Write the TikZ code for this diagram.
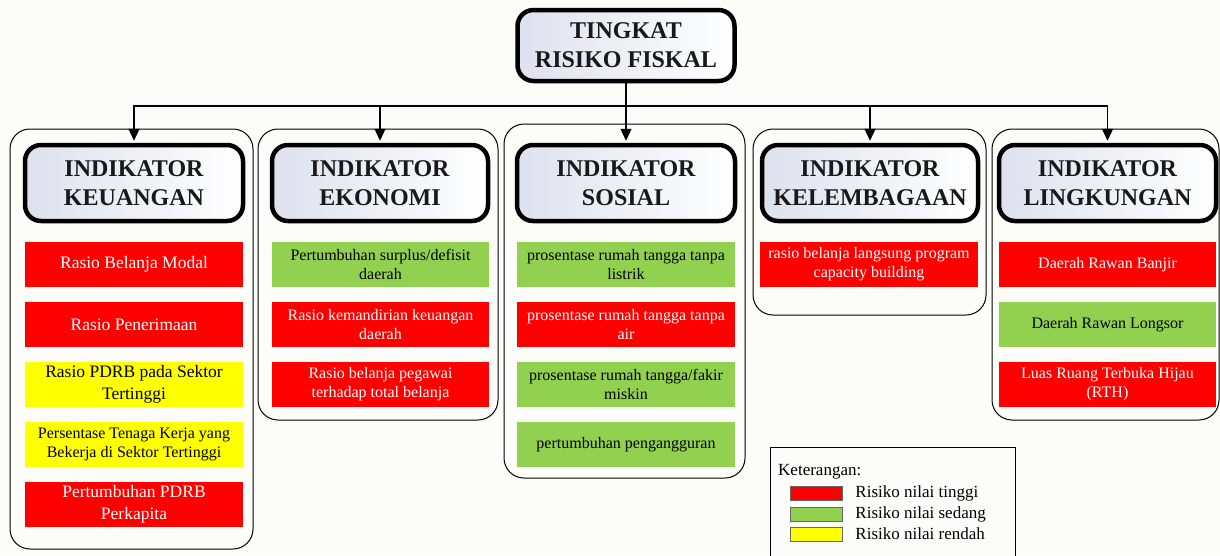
\documentclass[tikz,border=0pt]{standalone}
\usepackage{fontspec}
\setmainfont{Liberation Serif}
\usetikzlibrary{arrows.meta,positioning}
\definecolor{bgc}{RGB}{252,252,248}
\definecolor{rred}{RGB}{255,0,0}
\definecolor{rgreen}{RGB}{146,208,80}
\definecolor{ryellow}{RGB}{255,255,0}
\definecolor{hdrshade}{RGB}{222,225,238}
\tikzset{
  outerbox/.style={draw=black, line width=1pt, rounded corners=20pt, fill=bgc, inner sep=0pt},
  hdrbox/.style={draw=black, line width=4.5pt, rounded corners=16pt, left color=hdrshade, right color=white,
     inner sep=0pt, align=center, font=\bfseries\fontsize{24}{29}\selectfont, text=black!90},
  itembox/.style={inner sep=0pt, minimum height=45pt, align=center, font=\fontsize{16}{19}\selectfont},
  redbox/.style={itembox, fill=rred, text=white},
  greenbox/.style={itembox, fill=rgreen, text=black},
  yellowbox/.style={itembox, fill=ryellow, text=black},
  bigtxt/.style={font=\fontsize{17.5}{22}\selectfont},
  conn/.style={draw=black, line width=1.2pt},
  arr/.style={conn, -{Triangle[length=12pt,width=11pt]}},
  swatch/.style={draw=black!60, line width=0.5pt, minimum width=52pt, minimum height=14pt, inner sep=0pt},
  legtxt/.style={anchor=west, inner sep=0pt, font=\fontsize{17}{20}\selectfont},
}
\begin{document}
\begin{tikzpicture}[x=1pt,y=-1pt]
\fill[bgc] (0,0) rectangle (1220,555);
\useasboundingbox (0,0) rectangle (1220,555);

% outer containers
\node[outerbox, minimum width=243pt, minimum height=420pt] (c1) at (131.5,339) {};
\node[outerbox, minimum width=240pt, minimum height=291pt] (c2) at (378,274.5) {};
\node[outerbox, minimum width=241pt, minimum height=354pt] (c3) at (624.5,301) {};
\node[outerbox, minimum width=233pt, minimum height=186pt] (c4) at (869.5,222) {};
\node[outerbox, minimum width=227pt, minimum height=291pt] (c5) at (1105.5,274.5) {};

% top node
\node[hdrbox, minimum width=217pt, minimum height=71pt] (top) at (626,45.5) {TINGKAT\\RISIKO FISKAL};

% headers
\node[hdrbox, minimum width=218pt, minimum height=76pt] (h1) at (134,183) {INDIKATOR\\KEUANGAN};
\node[hdrbox, minimum width=216pt, minimum height=76pt] (h2) at (380,183) {INDIKATOR\\EKONOMI};
\node[hdrbox, minimum width=218pt, minimum height=76pt] (h3) at (626,183) {INDIKATOR\\SOSIAL};
\node[hdrbox, minimum width=216pt, minimum height=76pt] (h4) at (870,183) {INDIKATOR\\KELEMBAGAAN};
\node[hdrbox, minimum width=217pt, minimum height=76pt] (h5) at (1107.5,183) {INDIKATOR\\LINGKUNGAN};

% connectors
\coordinate (bus) at (626,106);
\draw[conn] (top.south) -- (bus);
\draw[arr, shorten >=2pt] (bus) -| (h1.north);
\draw[arr, shorten >=2pt] (bus) -| (h2.north);
\draw[arr, shorten >=2pt] (bus) -- (h3.north);
\draw[arr, shorten >=2pt] (bus) -| (h4.north);
\draw[arr, shorten >=2pt] (bus) -| (h5.north);

% column 1
\node[redbox, bigtxt, minimum width=218pt] (a1) at (134,264.5) {Rasio Belanja Modal};
\node[redbox, bigtxt, minimum width=218pt] (a2) at (134,324.5) {Rasio Penerimaan};
\node[yellowbox, bigtxt, minimum width=218pt] (a3) at (134,384.5) {Rasio PDRB pada Sektor\\Tertinggi};
\node[yellowbox, minimum width=218pt] (a4) at (134,444.5) {Persentase Tenaga Kerja yang\\Bekerja di Sektor Tertinggi};
\node[redbox, bigtxt, minimum width=218pt] (a5) at (134,504) {Pertumbuhan PDRB\\Perkapita};

% column 2
\node[greenbox, minimum width=217pt] (b1) at (380.5,264.5) {Pertumbuhan surplus/defisit\\daerah};
\node[redbox, minimum width=217pt] (b2) at (380.5,324.5) {Rasio kemandirian keuangan\\daerah};
\node[redbox, minimum width=217pt] (b3) at (380.5,384.5) {Rasio belanja pegawai\\terhadap total belanja};

% column 3
\node[greenbox, minimum width=218pt] (s1) at (626,264.5) {prosentase rumah tangga tanpa\\listrik};
\node[redbox, minimum width=218pt] (s2) at (626,324.5) {prosentase rumah tangga tanpa\\air};
\node[greenbox, minimum width=218pt] (s3) at (626,384.5) {prosentase rumah tangga/fakir\\miskin};
\node[greenbox, minimum width=218pt] (s4) at (626,444.5) {pertumbuhan pengangguran};

% column 4
\node[redbox, minimum width=218pt] (k1) at (869,264.5) {rasio belanja langsung program\\capacity building};

% column 5
\node[redbox, minimum width=217pt] (l1) at (1107.5,264.5) {Daerah Rawan Banjir};
\node[greenbox, minimum width=217pt] (l2) at (1107.5,324.5) {Daerah Rawan Longsor};
\node[redbox, minimum width=217pt] (l3) at (1107.5,384.5) {Luas Ruang Terbuka Hijau\\(RTH)};

% legend
\node[draw=black, line width=1pt, fill=bgc, minimum width=245pt, minimum height=130pt, inner sep=0pt, anchor=north west] (leg) at (770,447) {};
\node[legtxt] (legt) at (778,472) {Keterangan:};
\node[swatch, fill=rred] (sw1) at (816,493.5) {};
\node[swatch, fill=rgreen] (sw2) at (816,514.5) {};
\node[swatch, fill=ryellow] (sw3) at (816,534) {};
\node[legtxt, right=13pt of sw1] (lt1) {Risiko nilai tinggi};
\node[legtxt, right=13pt of sw2] (lt2) {Risiko nilai sedang};
\node[legtxt, right=13pt of sw3] (lt3) {Risiko nilai rendah};
\end{tikzpicture}
\end{document}
